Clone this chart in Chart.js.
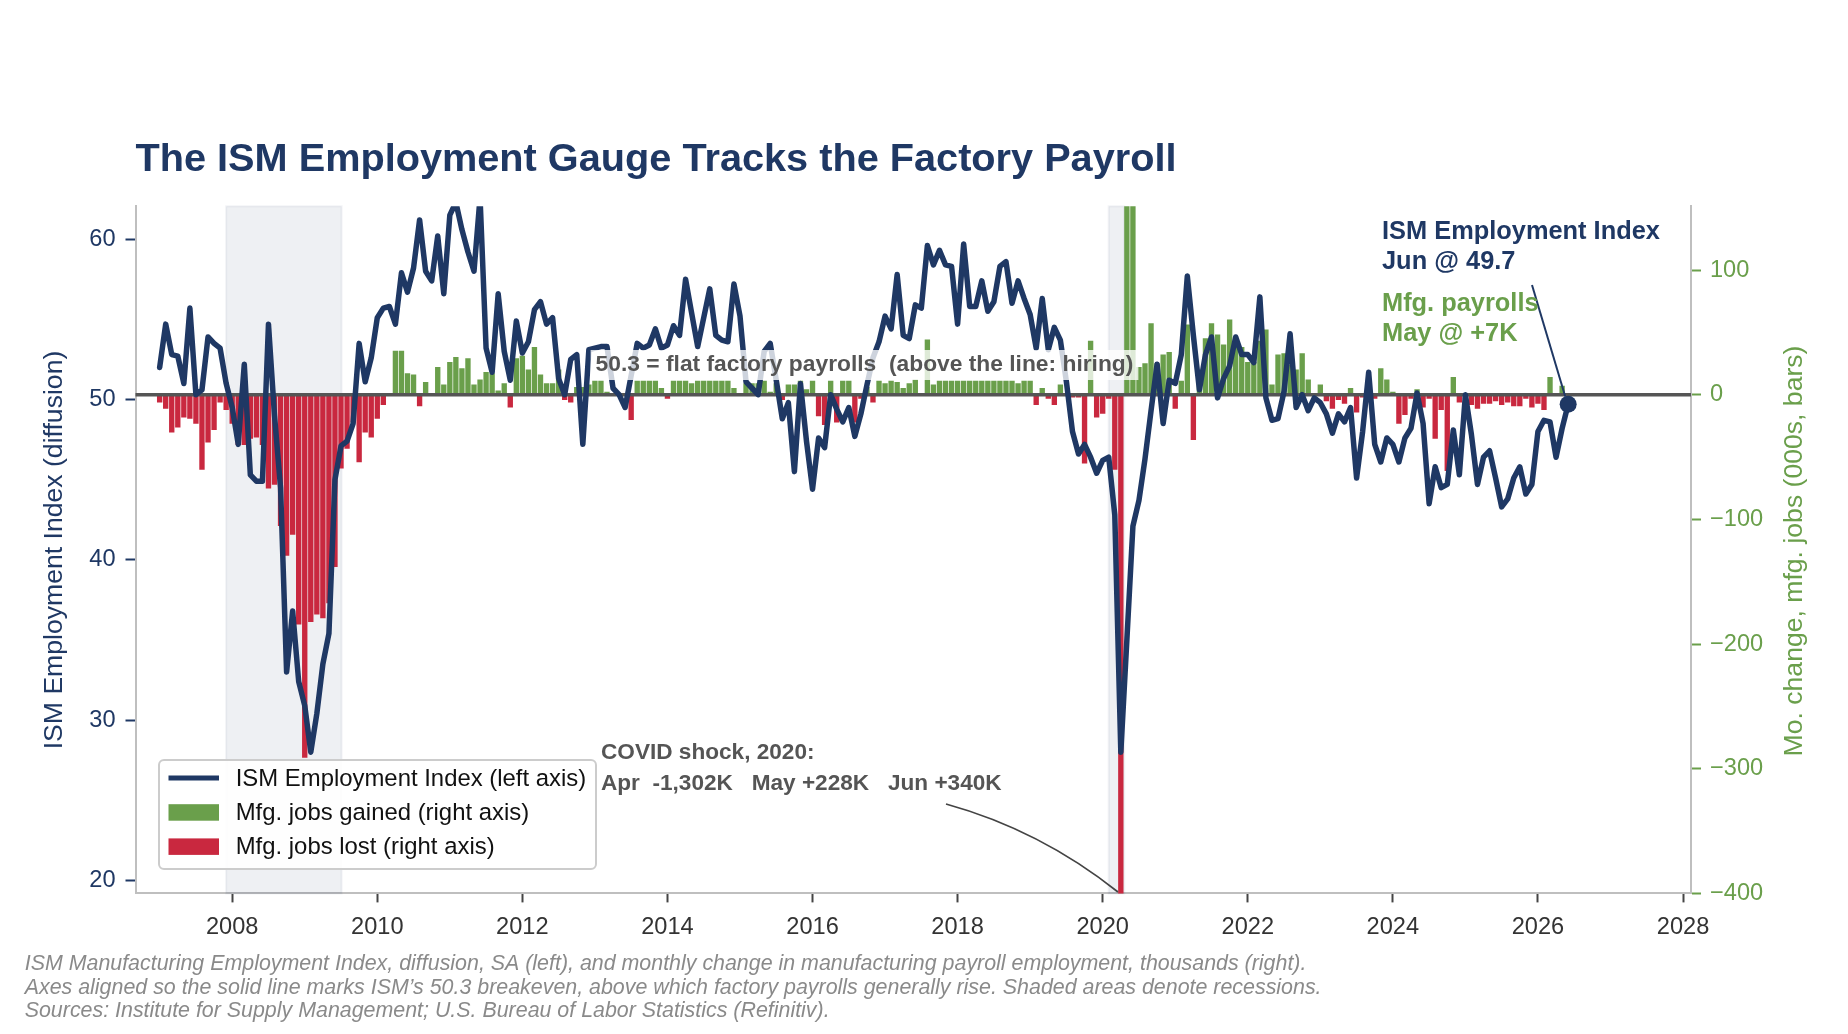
<!DOCTYPE html>
<html>
<head>
<meta charset="utf-8">
<script src="https://cdn.jsdelivr.net/npm/chart.js@4.4.1/dist/chart.umd.min.js"></script>
<style>
  html, body { margin: 0; padding: 0; background: #fff; }
  #wrap { width: 1848px; height: 1034px; }
</style>
</head>
<body>
<div id="wrap"><canvas id="chart" width="1848" height="1034"></canvas></div>
<script>
// monthly series, first value = January 2007
const startYear = 2007;

// ISM Manufacturing Employment Index (diffusion), Jan 2007 .. Jun 2026
const ismEmployment = [
  52.0, 54.7, 52.8, 52.7, 51.0, 55.7, 50.3, 50.6, 53.9, 53.5, 53.2, 51.0,
  49.5, 47.2, 52.2, 45.3, 44.9, 44.9, 54.7, 49.0, 44.5, 33.0, 36.8, 32.4,
  30.9, 28.0, 30.4, 33.5, 35.4, 45.0, 47.1, 47.4, 48.5, 53.5, 51.1, 52.6,
  55.1, 55.7, 55.8, 54.7, 57.9, 56.7, 58.2, 61.2, 58.0, 57.4, 60.2, 56.6,
  61.5, 62.3, 60.6, 59.2, 58.0, 62.6, 53.2, 51.7, 56.6, 53.0, 51.2, 54.9,
  52.9, 53.6, 55.6, 56.1, 54.7, 55.1, 51.3, 50.3, 52.5, 52.8, 47.2, 53.1,
  53.2, 53.3, 53.3, 50.7, 50.3, 49.5, 51.5, 53.5, 53.2, 53.4, 54.4, 53.2,
  53.4, 54.6, 54.0, 57.5, 55.4, 53.3, 55.1, 56.9, 54.0, 53.7, 53.6, 57.2,
  55.2, 51.1, 50.7, 50.3, 53.0, 53.5, 51.2, 48.8, 49.8, 45.5, 51.0, 47.4,
  44.4, 47.6, 47.0, 50.3, 49.4, 48.6, 49.5, 47.7, 49.1, 50.9, 52.6, 53.6,
  55.2, 54.4, 57.8, 54.0, 53.8, 55.9, 55.7, 59.6, 58.4, 59.3, 58.4, 58.3,
  54.7, 59.7, 55.8, 55.8, 57.4, 55.5, 56.1, 58.3, 58.6, 56.0, 57.4, 56.3,
  55.3, 53.2, 56.3, 53.1, 54.5, 53.7, 51.1, 48.0, 46.6, 47.2, 46.4, 45.4,
  46.2, 46.4, 42.8, 28.0, 35.0, 42.1, 43.7, 46.3, 49.3, 52.2, 48.5, 51.2,
  51.0, 52.8, 57.7, 54.0, 50.6, 52.8, 53.9, 50.1, 51.3, 52.1, 53.9, 52.8,
  52.8, 52.3, 56.4, 50.1, 48.7, 48.8, 50.5, 54.1, 49.5, 50.3, 49.3, 50.1,
  49.8, 49.1, 47.9, 49.1, 48.6, 49.5, 45.1, 48.0, 51.7, 47.2, 46.1, 47.6,
  47.2, 46.1, 47.6, 48.2, 50.4, 48.5, 43.5, 45.8, 44.5, 44.7, 48.1, 45.3,
  50.3, 47.8, 44.7, 46.4, 46.8, 45.1, 43.3, 43.8, 45.1, 45.8, 44.1, 44.7,
  48.0, 48.7, 48.6, 46.4, 48.2, 49.7
];

// monthly change in manufacturing payrolls, thousands, Jan 2007 .. May 2026
const mfgJobsChange = [
  -6, -11, -30, -26, -18, -19, -23, -60, -38, -28, -6, -12,
  -23, -40, -40, -35, -34, -40, -75, -72, -105, -129, -112, -184,
  -291, -182, -176, -179, -167, -138, -59, -43, -22, -54, -30, -34,
  -19, -8, 0, 35, 35, 17, 16, -9, 10, 0, 22, 8,
  26, 30, 21, 29, 8, 12, 18, 17, 3, 9, -10, 29,
  31, 20, 38, 16, 9, 9, 20, -4, -6, 6, 6, 8,
  11, 11, 2, 0, 0, 0, -20, 11, 11, 11, 11, 5,
  -3, 11, 11, 11, 9, 11, 11, 11, 11, 11, 11, 5,
  0, 9, 9, 9, 11, 2, 9, -4, 8, 8, 11, 4,
  11, -17, -24, 11, -22, 11, 11, -22, -3, 6, -6, 11,
  9, 11, 10, 5, 9, 12, 0, 44, 8, 11, 11, 11,
  11, 11, 11, 11, 11, 11, 11, 11, 11, 11, 9, 11,
  11, -8, 5, -3, -8, 8, 0, -2, -2, -55, 43, -18,
  -15, -3, -60, -1302, 228, 340, 22, 25, 57, 25, 32, 34,
  -11, 11, 56, -36, 11, 45, 57, 48, 40, 60, 43, 38,
  26, 26, 43, 52, 8, 32, 33, 24, 20, 33, 12, 1,
  8, -5, -11, -4, -7, 5, -14, -2, 4, -3, 21, 12,
  2, -23, -16, -3, 4, -10, -3, -35, -12, -61, 14, -6,
  -3, -8, -11, -7, -7, -5, -8, -6, -9, -9, -3, -10,
  -7, -12, 14, 0, 7
];

const yearTicks = [2008, 2010, 2012, 2014, 2016, 2018, 2020, 2022, 2024, 2026, 2028];
const leftTicks = [20, 30, 40, 50, 60];
const rightTicks = [-400, -300, -200, -100, 0, 100];
const recessions = [[2007.917, 2009.508], [2020.083, 2020.297]];
const breakeven = 50.3;

const NAVY = '#1f3864';
const GREEN = '#6a9f4b';
const RED = '#c9283f';
const GREY_TXT = '#555555';
const FONT = '"Liberation Sans", Arial, Helvetica, sans-serif';

const monthX = i => startYear + i / 12;
const ismPoints = ismEmployment.map((v, i) => ({ x: monthX(i), y: v }));
const gainedPoints = mfgJobsChange.map((v, i) => ({ x: monthX(i), y: v > 0 ? v : null }));
const lostPoints = mfgJobsChange.map((v, i) => ({ x: monthX(i), y: v < 0 ? v : null }));
const lastIdx = ismEmployment.length - 1;

const overlay = {
  id: 'overlay',
  beforeDatasetsDraw(chart) {
    const { ctx, chartArea: a, scales } = chart;
    ctx.save();
    recessions.forEach(([s, e]) => {
      const x1 = scales.x.getPixelForValue(s);
      const x2 = scales.x.getPixelForValue(e);
      ctx.fillStyle = 'rgba(31,56,100,0.075)';
      ctx.fillRect(x1, a.top, x2 - x1, a.bottom - a.top);
      ctx.strokeStyle = 'rgba(31,56,100,0.06)';
      ctx.lineWidth = 2;
      ctx.strokeRect(x1, a.top, x2 - x1, a.bottom - a.top);
    });
    ctx.restore();
  },
  beforeDatasetDraw(chart, args) {
    if (args.index !== 0) return;
    // breakeven line sits above the bars, under the ISM line
    const { ctx, chartArea: a, scales } = chart;
    const y = scales.y.getPixelForValue(breakeven);
    ctx.save();
    ctx.strokeStyle = '#555';
    ctx.lineWidth = 3.5;
    ctx.beginPath();
    ctx.moveTo(a.left, y);
    ctx.lineTo(a.right, y);
    ctx.stroke();
    ctx.restore();
  },
  afterDatasetsDraw(chart) {
    const { ctx, scales } = chart;
    ctx.save();
    // breakeven label
    const lbl = '50.3 = flat factory payrolls  (above the line: hiring)';
    ctx.font = 'bold 22.8px ' + FONT;
    const w = ctx.measureText(lbl).width;
    const cx = 864.5, cy = 365;
    ctx.fillStyle = 'rgba(255,255,255,0.78)';
    ctx.fillRect(cx - w / 2 - 5, cy - 15, w + 10, 30);
    ctx.fillStyle = GREY_TXT;
    ctx.textAlign = 'center';
    ctx.textBaseline = 'middle';
    ctx.fillText(lbl, cx, cy);

    // latest-value callout
    const dx = scales.x.getPixelForValue(monthX(lastIdx));
    const dy = scales.y.getPixelForValue(ismEmployment[lastIdx]);
    ctx.strokeStyle = NAVY;
    ctx.lineWidth = 2;
    ctx.beginPath();
    ctx.moveTo(1532, 285);
    ctx.lineTo(dx - 3, dy - 8);
    ctx.stroke();
    ctx.textAlign = 'left';
    ctx.font = 'bold 25.4px ' + FONT;
    ctx.fillStyle = NAVY;
    ctx.fillText('ISM Employment Index', 1382, 232);
    ctx.fillText('Jun @ 49.7', 1382, 261.5);
    ctx.fillStyle = GREEN;
    ctx.fillText('Mfg. payrolls', 1382, 304);
    ctx.fillText('May @ +7K', 1382, 333.5);

    // COVID callout
    ctx.fillStyle = GREY_TXT;
    ctx.font = 'bold 22.6px ' + FONT;
    ctx.fillText('COVID shock, 2020:', 601, 753);
    ctx.fillText('Apr  -1,302K   May +228K   Jun +340K', 601, 784);
    ctx.strokeStyle = '#444';
    ctx.lineWidth = 1.8;
    ctx.beginPath();
    ctx.moveTo(946, 804);
    ctx.quadraticCurveTo(1040, 830, 1118, 892);
    ctx.stroke();
    ctx.restore();
  },
  afterDraw(chart) {
    const { ctx } = chart;
    ctx.save();
    // title
    ctx.fillStyle = NAVY;
    ctx.font = 'bold 39.7px ' + FONT;
    ctx.textAlign = 'left';
    ctx.textBaseline = 'alphabetic';
    ctx.fillText('The ISM Employment Gauge Tracks the Factory Payroll', 135.5, 170.5);

    // axis titles
    ctx.font = '26.6px ' + FONT;
    ctx.textAlign = 'center';
    ctx.textBaseline = 'middle';
    ctx.save();
    ctx.translate(55, 550);
    ctx.rotate(-Math.PI / 2);
    ctx.fillStyle = NAVY;
    ctx.fillText('ISM Employment Index (diffusion)', 0, 0);
    ctx.restore();
    ctx.save();
    ctx.translate(1795, 551);
    ctx.rotate(-Math.PI / 2);
    ctx.fillStyle = GREEN;
    ctx.fillText('Mo. change, mfg. jobs (000s, bars)', 0, 0);
    ctx.restore();

    // legend
    const lx = 159, ly = 760, lw = 437, lh = 109;
    ctx.fillStyle = 'rgba(255,255,255,0.9)';
    ctx.strokeStyle = '#cccccc';
    ctx.lineWidth = 2;
    ctx.beginPath();
    ctx.roundRect(lx, ly, lw, lh, 5);
    ctx.fill();
    ctx.stroke();
    const rows = [
      { kind: 'line', color: NAVY, text: 'ISM Employment Index (left axis)' },
      { kind: 'box', color: GREEN, text: 'Mfg. jobs gained (right axis)' },
      { kind: 'box', color: RED, text: 'Mfg. jobs lost (right axis)' }
    ];
    ctx.font = '23.9px ' + FONT;
    ctx.textAlign = 'left';
    rows.forEach((r, i) => {
      const y = 778 + i * 34.2;
      if (r.kind === 'line') {
        ctx.strokeStyle = r.color;
        ctx.lineWidth = 5;
        ctx.beginPath();
        ctx.moveTo(168.5, y);
        ctx.lineTo(219, y);
        ctx.stroke();
      } else {
        ctx.fillStyle = r.color;
        ctx.fillRect(168.5, y - 8, 50.5, 16.5);
      }
      ctx.fillStyle = '#111';
      ctx.fillText(r.text, 235.7, y + 1);
    });

    // notes
    ctx.fillStyle = '#8a8a8a';
    ctx.font = 'italic 21.4px ' + FONT;
    ctx.fillText('ISM Manufacturing Employment Index, diffusion, SA (left), and monthly change in manufacturing payroll employment, thousands (right).', 24.7, 964.5);
    ctx.fillText('Axes aligned so the solid line marks ISM\u2019s 50.3 breakeven, above which factory payrolls generally rise. Shaded areas denote recessions.', 24.7, 988);
    ctx.fillText('Sources: Institute for Supply Management; U.S. Bureau of Labor Statistics (Refinitiv).', 24.7, 1011.5);
    ctx.restore();
  }
};

const tickFont = { family: FONT, size: 23.6 };

new Chart(document.getElementById('chart').getContext('2d'), {
  type: 'bar',
  data: {
    datasets: [
      {
        type: 'line',
        label: 'ISM Employment Index (left axis)',
        data: ismPoints,
        yAxisID: 'y',
        borderColor: NAVY,
        backgroundColor: NAVY,
        borderWidth: 5.5,
        borderJoinStyle: 'round',
        borderCapStyle: 'round',
        tension: 0,
        pointRadius: ismPoints.map((p, i) => (i === lastIdx ? 8.5 : 0)),
        pointHoverRadius: 0,
        pointBackgroundColor: NAVY,
        pointBorderWidth: 0
      },
      {
        label: 'Mfg. jobs gained (right axis)',
        data: gainedPoints,
        yAxisID: 'y1',
        backgroundColor: GREEN,
        borderWidth: 0,
        barThickness: 4.7,
        grouped: false,
        skipNull: true
      },
      {
        label: 'Mfg. jobs lost (right axis)',
        data: lostPoints,
        yAxisID: 'y1',
        backgroundColor: RED,
        borderWidth: 0,
        barThickness: 4.7,
        grouped: false,
        skipNull: true
      }
    ]
  },
  options: {
    responsive: false,
    animation: false,
    devicePixelRatio: 1,
    layout: { padding: { top: 206.3, left: 0, right: 0, bottom: 0 } },
    plugins: {
      legend: { display: false },
      tooltip: { enabled: false },
      title: { display: false }
    },
    scales: {
      x: {
        type: 'linear',
        min: 2006.667,
        max: 2028.11,
        offset: false,
        afterBuildTicks: s => { s.ticks = yearTicks.map(v => ({ value: v })); },
        afterFit: s => { s.height = 140.6; },
        ticks: { color: '#333', font: tickFont, padding: 11, maxRotation: 0, autoSkip: false, callback: v => String(v) },
        grid: { drawOnChartArea: false, drawTicks: true, tickLength: 9, tickColor: '#444', tickWidth: 2, offset: false },
        border: { display: true, color: '#bfbfbf', width: 2 }
      },
      y: {
        type: 'linear',
        position: 'left',
        min: 19.19,
        max: 62.05,
        afterBuildTicks: s => { s.ticks = leftTicks.map(v => ({ value: v })); },
        afterFit: s => { s.width = 135.5; },
        ticks: { color: NAVY, font: tickFont, padding: 10, callback: v => String(v) },
        grid: { drawOnChartArea: false, drawTicks: true, tickLength: 10, tickColor: NAVY, tickWidth: 2 },
        border: { display: true, color: '#bfbfbf', width: 2 }
      },
      y1: {
        type: 'linear',
        position: 'right',
        min: -400,
        max: 151.1,
        afterBuildTicks: s => { s.ticks = rightTicks.map(v => ({ value: v })); },
        afterFit: s => { s.width = 157; },
        ticks: { color: GREEN, font: tickFont, padding: 9, callback: v => (v < 0 ? '\u2212' + Math.abs(v) : String(v)) },
        grid: { drawOnChartArea: false, drawTicks: true, tickLength: 10, tickColor: GREEN, tickWidth: 2 },
        border: { display: true, color: '#bfbfbf', width: 2 }
      }
    }
  },
  plugins: [overlay]
});
</script>
</body>
</html>
